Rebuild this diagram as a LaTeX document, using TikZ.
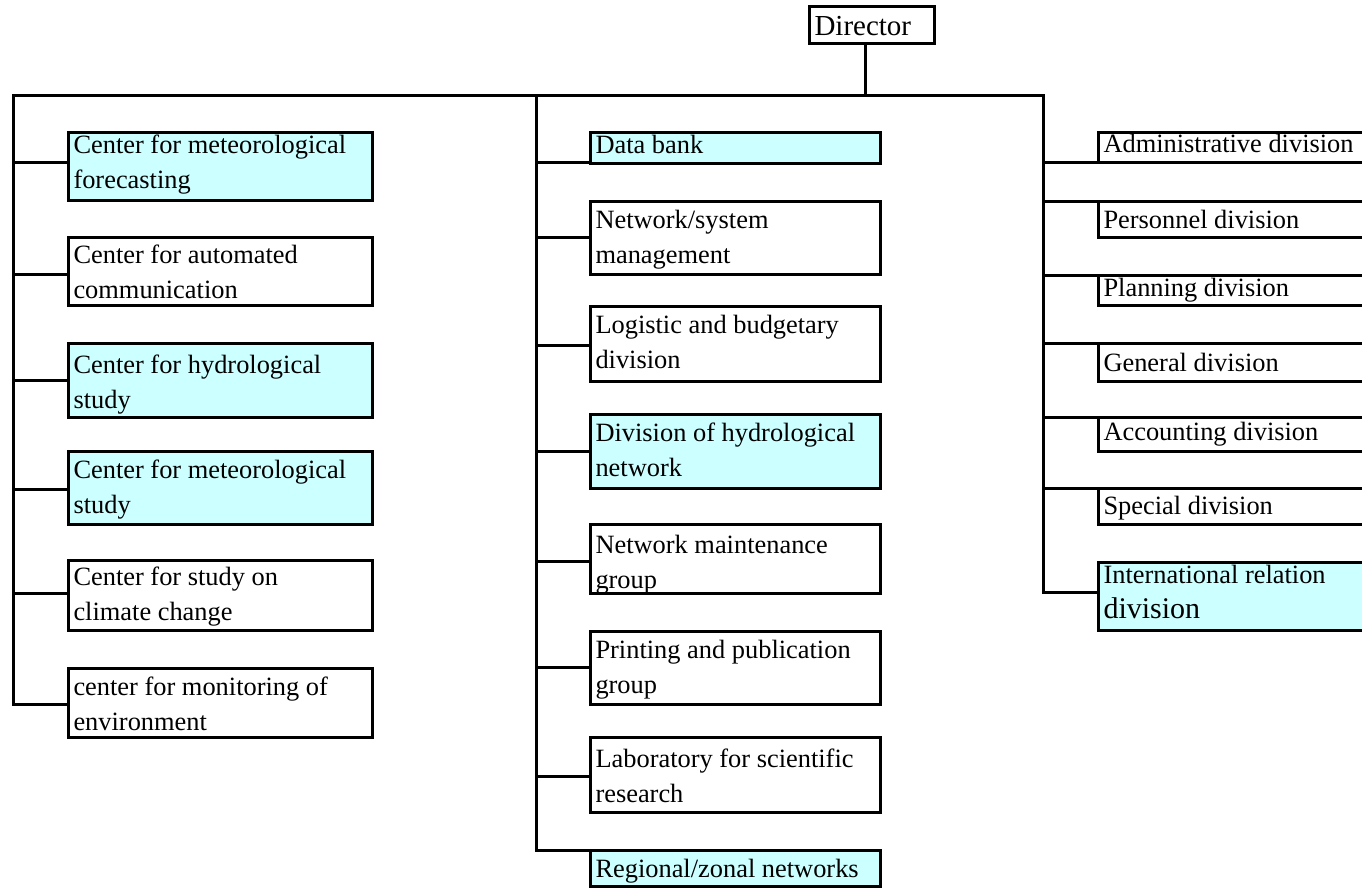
\documentclass[tikz,border=0pt]{standalone}
\usepackage{fontspec}
\setmainfont{Liberation Serif}
\definecolor{paleCyan}{HTML}{CCFFFF}
% #1 inner width, #2 box height, #3 first baseline offset, #4 text
\newcommand\unitbox[4]{\parbox[t][#2pt][t]{#1pt}{\raggedright\rule{0pt}{#3pt}#4}}
\tikzset{
  unit/.style={draw=black, line width=3pt, rectangle, anchor=north west,
    inner xsep=5.5pt, inner ysep=0pt, outer sep=0pt,
    font=\fontsize{26.4}{35}\selectfont},
  hl/.style={unit, fill=paleCyan},
  wire/.style={line width=3pt, line join=miter, line cap=butt}
}
\begin{document}
\begin{tikzpicture}[x=1pt, y=-1pt]
\useasboundingbox (0,0) rectangle (1362,887);
\clip (0,0) rectangle (1362,887);

% head of the organisation
\node[unit, font=\fontsize{29}{35}\selectfont] (D) at (809,6) {\unitbox{114}{37}{29}{Director}};

% left branch: research centers
\node[hl]   (L1) at (68,132) {\unitbox{293}{68}{21}{Center for meteorological\\forecasting}};
\node[unit] (L2) at (68,237) {\unitbox{293}{68}{26}{Center for automated\\communication}};
\node[hl]   (L3) at (68,343) {\unitbox{293}{74}{30}{Center for hydrological\\study}};
\node[hl]   (L4) at (68,451) {\unitbox{293}{73}{27}{Center for meteorological\\study}};
\node[unit] (L5) at (68,560) {\unitbox{293}{70}{25}{Center for study on\\climate change}};
\node[unit] (L6) at (68,668) {\unitbox{293}{69}{27}{center for monitoring of\\environment}};

% middle branch: technical units
\node[hl]   (M1) at (590,132) {\unitbox{279}{31}{21}{Data bank}};
\node[unit] (M2) at (590,201) {\unitbox{279}{73}{27}{Network/system\\management}};
\node[unit] (M3) at (590,306) {\unitbox{279}{75}{27}{Logistic and budgetary\\division}};
\node[hl]   (M4) at (590,414) {\unitbox{279}{74}{27}{Division of hydrological\\network}};
\node[unit] (M5) at (590,524) {\unitbox{279}{69}{29}{Network maintenance\\group}};
\node[unit] (M6) at (590,631) {\unitbox{279}{73}{27}{Printing and publication\\group}};
\node[unit] (M7) at (590,737) {\unitbox{279}{75}{30}{Laboratory for scientific\\research}};
\node[hl]   (M8) at (590,850) {\unitbox{279}{36}{27}{Regional/zonal networks}};

% right branch: administration
\node[unit] (R1) at (1098,132) {\unitbox{271}{30}{20}{Administrative division}};
\node[unit] (R2) at (1098,201) {\unitbox{271}{36}{27}{Personnel division}};
\node[unit] (R3) at (1098,275) {\unitbox{271}{30}{21}{Planning division}};
\node[unit] (R4) at (1098,343) {\unitbox{271}{38}{28}{General division}};
\node[unit] (R5) at (1098,417) {\unitbox{271}{34}{23}{Accounting division}};
\node[unit] (R6) at (1098,488) {\unitbox{271}{36}{26}{Special division}};
\node[hl]   (R7) at (1098,562) {\unitbox{271}{68}{21}{International relation\\{\fontsize{30}{35}\selectfont division}}};

% bus lines
\coordinate (Lt) at (13,95);
\coordinate (Mt) at (536,95);
\coordinate (Rt) at (1043,95);

% attachment points
\path (D.south) ++(-6.5,0) coordinate (Dstem);
\path (L1.north west) ++(0,30) coordinate (L1in);
\path (L2.north west) ++(0,37) coordinate (L2in);
\path (L3.north west) ++(0,37) coordinate (L3in);
\path (L4.north west) ++(0,38) coordinate (L4in);
\path (L5.north west) ++(0,33) coordinate (L5in);
\path (L6.north west) ++(0,36) coordinate (L6in);
\path (M1.north west) ++(0,30) coordinate (M1in);
\path (M2.north west) ++(0,36) coordinate (M2in);
\path (M3.north west) ++(0,39) coordinate (M3in);
\path (M4.north west) ++(0,37) coordinate (M4in);
\path (M5.north west) ++(0,37) coordinate (M5in);
\path (M6.north west) ++(0,36) coordinate (M6in);
\path (M7.north west) ++(0,39) coordinate (M7in);
\path (R7.north west) ++(0,30) coordinate (R7in);

\draw[wire] (Dstem) -- (Dstem |- Mt);
\draw[wire] (L6in) -| (Lt) -- (Rt) |- (R7in);
\draw[wire] (Mt) |- (M8.north west);

\foreach \n in {L1,L2,L3,L4,L5} {
  \draw[wire] (Lt |- \n in) -- (\n in);
}
\foreach \n in {M1,M2,M3,M4,M5,M6,M7} {
  \draw[wire] (Mt |- \n in) -- (\n in);
}
\draw[wire] (Rt |- R1.south west) -- (R1.south west);
\foreach \n in {R2,R3,R4,R5,R6} {
  \draw[wire] (Rt |- \n.north west) -- (\n.north west);
}
\end{tikzpicture}
\end{document}
